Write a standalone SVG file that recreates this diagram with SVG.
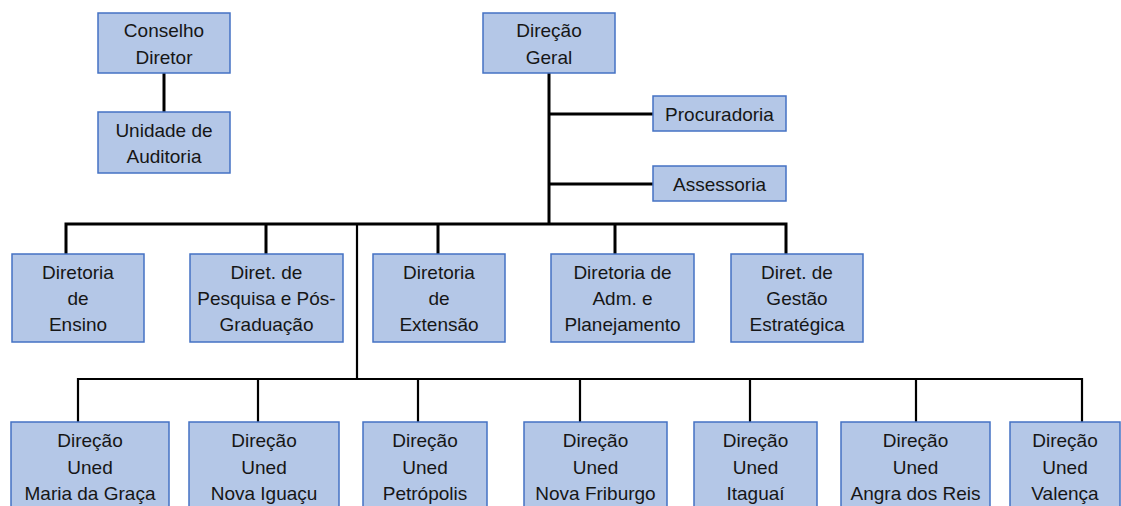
<svg xmlns="http://www.w3.org/2000/svg" width="1121" height="506" viewBox="0 0 1121 506">
<style>
.box{fill:#B4C7E7;stroke:#4472C4;stroke-width:1.5}
.t{font-family:"Liberation Sans",Arial,sans-serif;font-size:19px;fill:#161616;text-anchor:middle}
.c{stroke:#000;stroke-width:3;fill:none}
.c2{stroke:#000;stroke-width:2.2;fill:none}
</style>
<rect width="1121" height="506" fill="#fff"/>
<g id="connectors">
<path class="c" d="M164,73 V112"/>
<path class="c" d="M549,73 V224"/>
<path class="c" d="M549,114 H653 M549,184 H653"/>
<path class="c" d="M66,254 V224 H786 V254 M266,224 V254 M438,224 V254 M615,224 V254"/>
<path class="c2" d="M357,224 V379"/>
<path class="c2" d="M78,422 V379 H1082 V422 M258,379 V422 M418,379 V422 M580,379 V422 M750,379 V422 M916,379 V422"/>
</g>
<g id="conselho"><rect class="box" x="98" y="13" width="132" height="60"/><text class="t" x="164" y="37">Conselho</text><text class="t" x="164" y="64">Diretor</text></g>
<g id="auditoria"><rect class="box" x="98" y="112" width="132" height="61"/><text class="t" x="164" y="137">Unidade de</text><text class="t" x="164" y="163">Auditoria</text></g>
<g id="direcao-geral"><rect class="box" x="483" y="13" width="132" height="60"/><text class="t" x="549" y="37">Direção</text><text class="t" x="549" y="64">Geral</text></g>
<g id="procuradoria"><rect class="box" x="653" y="96" width="133" height="35"/><text class="t" x="719.5" y="120.5">Procuradoria</text></g>
<g id="assessoria"><rect class="box" x="653" y="166" width="133" height="35"/><text class="t" x="719.5" y="190.5">Assessoria</text></g>
<g id="ensino"><rect class="box" x="12" y="254" width="132" height="88"/><text class="t" x="78" y="279">Diretoria</text><text class="t" x="78" y="305">de</text><text class="t" x="78" y="331">Ensino</text></g>
<g id="pesquisa"><rect class="box" x="190" y="254" width="153" height="88"/><text class="t" x="266.5" y="279">Diret. de</text><text class="t" x="266.5" y="305">Pesquisa e Pós-</text><text class="t" x="266.5" y="331">Graduação</text></g>
<g id="extensao"><rect class="box" x="373" y="254" width="132" height="88"/><text class="t" x="439" y="279">Diretoria</text><text class="t" x="439" y="305">de</text><text class="t" x="439" y="331">Extensão</text></g>
<g id="adm"><rect class="box" x="551" y="254" width="143" height="88"/><text class="t" x="622.5" y="279">Diretoria de</text><text class="t" x="622.5" y="305">Adm. e</text><text class="t" x="622.5" y="331">Planejamento</text></g>
<g id="gestao"><rect class="box" x="731" y="254" width="132" height="88"/><text class="t" x="797" y="279">Diret. de</text><text class="t" x="797" y="305">Gestão</text><text class="t" x="797" y="331">Estratégica</text></g>
<g id="maria-graca"><rect class="box" x="11" y="422" width="158" height="100"/><text class="t" x="90" y="447">Direção</text><text class="t" x="90" y="474">Uned</text><text class="t" x="90" y="500">Maria da Graça</text></g>
<g id="nova-iguacu"><rect class="box" x="189" y="422" width="150" height="100"/><text class="t" x="264" y="447">Direção</text><text class="t" x="264" y="474">Uned</text><text class="t" x="264" y="500">Nova Iguaçu</text></g>
<g id="petropolis"><rect class="box" x="363" y="422" width="124" height="100"/><text class="t" x="425" y="447">Direção</text><text class="t" x="425" y="474">Uned</text><text class="t" x="425" y="500">Petrópolis</text></g>
<g id="nova-friburgo"><rect class="box" x="524" y="422" width="143" height="100"/><text class="t" x="595.5" y="447">Direção</text><text class="t" x="595.5" y="474">Uned</text><text class="t" x="595.5" y="500">Nova Friburgo</text></g>
<g id="itaguai"><rect class="box" x="694" y="422" width="123" height="100"/><text class="t" x="755.5" y="447">Direção</text><text class="t" x="755.5" y="474">Uned</text><text class="t" x="755.5" y="500">Itaguaí</text></g>
<g id="angra"><rect class="box" x="841" y="422" width="149" height="100"/><text class="t" x="915.5" y="447">Direção</text><text class="t" x="915.5" y="474">Uned</text><text class="t" x="915.5" y="500">Angra dos Reis</text></g>
<g id="valenca"><rect class="box" x="1010" y="422" width="110" height="100"/><text class="t" x="1065" y="447">Direção</text><text class="t" x="1065" y="474">Uned</text><text class="t" x="1065" y="500">Valença</text></g>
</svg>
